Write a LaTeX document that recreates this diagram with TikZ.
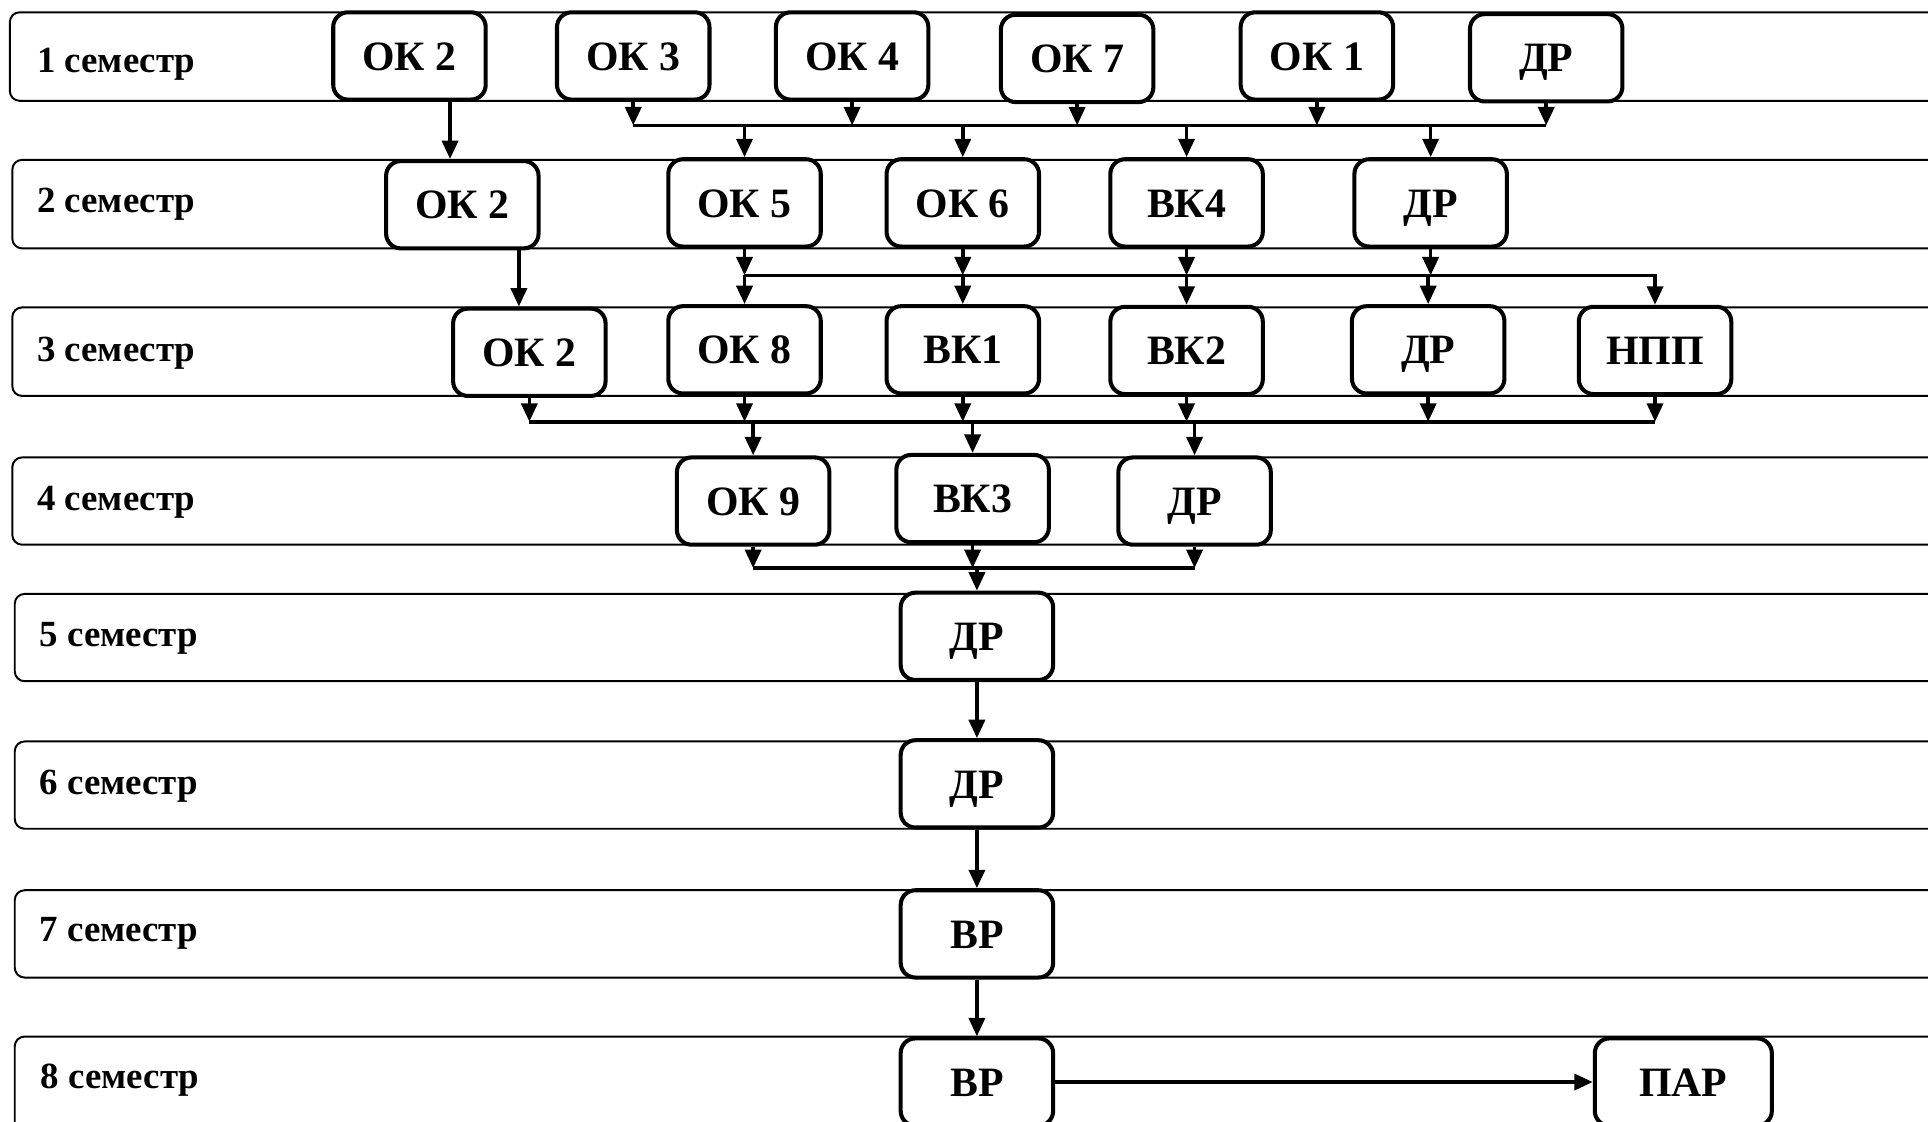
\documentclass[tikz,border=0pt]{standalone}
\usepackage{fontspec}
\setmainfont{Liberation Serif}
\usetikzlibrary{arrows.meta}
\begin{document}
\begin{tikzpicture}[x=1pt,y=-1pt,
  band/.style={draw, line width=1.6pt, rounded corners=8pt},
  box/.style={draw, fill=white, line width=3.3pt, rounded corners=12pt, minimum width=124pt, minimum height=71pt, inner sep=0pt, font=\fontsize{34}{40}\selectfont\bfseries, text height=23pt, text depth=0pt},
  sem/.style={anchor=base west, inner sep=0pt, font=\fontsize{30}{34}\selectfont\bfseries},
  arr/.style={line width=3pt, -{Triangle[length=15pt,width=13pt]}},
  con/.style={line width=3pt}]
\useasboundingbox (0,0) rectangle (1568,912);
\clip (0,0) rectangle (1568,912);
\fill[white] (0,0) rectangle (1568,912);

% semester bands
\draw[band] (8,10) rectangle (1590,82);
\draw[band] (10,130) rectangle (1590,202);
\draw[band] (10,250) rectangle (1590,322);
\draw[band] (10,372) rectangle (1590,443);
\draw[band] (12,483) rectangle (1590,554);
\draw[band] (12,603) rectangle (1590,674);
\draw[band] (12,724) rectangle (1590,795);
\draw[band] (12,843) rectangle (1590,940);

% semester labels
\node[sem] (s1) at (30,59) {1 семестр};
\node[sem] (s2) at (30,173) {2 семестр};
\node[sem] (s3) at (30,294) {3 семестр};
\node[sem] (s4) at (30,415) {4 семестр};
\node[sem] (s5) at (32,526) {5 семестр};
\node[sem] (s6) at (32,646) {6 семестр};
\node[sem] (s7) at (32,766) {7 семестр};
\node[sem] (s8) at (33,885) {8 семестр};

% row 1
\node[box] (a1) at (333,45.5) {ОК 2};
\node[box] (a2) at (515,45.5) {ОК 3};
\node[box] (a3) at (693,45.5) {ОК 4};
\node[box] (a4) at (876,47.5) {ОК 7};
\node[box] (a5) at (1071,45.5) {ОК 1};
\node[box] (a6) at (1257.5,47) {ДР};
% row 2
\node[box] (b1) at (376,166.5) {ОК 2};
\node[box] (b2) at (605.5,165) {ОК 5};
\node[box] (b3) at (783,165) {ОК 6};
\node[box] (b4) at (965,165) {ВК4};
\node[box] (b5) at (1163.5,165) {ДР};
% row 3
\node[box] (c1) at (430.5,286.5) {ОК 2};
\node[box] (c2) at (605.5,284.5) {ОК 8};
\node[box] (c3) at (783,284.5) {ВК1};
\node[box] (c4) at (965,285) {ВК2};
\node[box] (c5) at (1161.5,284.5) {ДР};
\node[box] (c6) at (1346,285) {НПП};
% row 4
\node[box] (d1) at (612.5,407.5) {ОК 9};
\node[box] (d2) at (791,405.5) {ВК3};
\node[box] (d3) at (971.5,407.5) {ДР};
% rows 5-8
\node[box] (e1) at (794.5,517.5) {ДР};
\node[box] (f1) at (794.5,637.5) {ДР};
\node[box] (g1) at (794.5,759.5) {ВР};
\node[box] (h1) at (794.5,880) {ВР};
\node[box, minimum width=144pt] (h2) at (1369,880) {ПАР};

% helper coordinates
\coordinate (bus1) at (0,102);
\coordinate (bus2) at (0,224);
\coordinate (bus3) at (0,343);
\coordinate (bus4) at (0,462);
\coordinate (v1) at (366,0);
\coordinate (v2) at (422,0);

% semester 1 -> 2
\draw[arr] (a1.south -| v1) -- (b1.north -| v1);
\foreach \n in {a2,a3,a4,a5,a6} \draw[arr] (\n.south) -- (\n.south |- bus1);
\draw[con] (a2.south |- bus1) -- (a6.south |- bus1);
\foreach \n in {b2,b3,b4,b5} \draw[arr] (\n.north |- bus1) -- (\n.north);

% semester 2 -> 3
\draw[arr] (b1.south -| v2) -- (c1.north -| v2);
\foreach \n in {b2,b3,b4,b5} \draw[arr] (\n.south) -- (\n.south |- bus2);
\draw[arr] (b2.south |- bus2) -- (c6.north |- bus2) -- (c6.north);
\foreach \n in {c2,c3,c4,c5} \draw[arr] (\n.north |- bus2) -- (\n.north);

% semester 3 -> 4
\foreach \n in {c1,c2,c3,c4,c5,c6} \draw[arr] (\n.south) -- (\n.south |- bus3);
\draw[con] (c1.south |- bus3) -- (c6.south |- bus3);
\foreach \n in {d1,d2,d3} \draw[arr] (\n.north |- bus3) -- (\n.north);

% semester 4 -> 5
\foreach \n in {d1,d2,d3} \draw[arr] (\n.south) -- (\n.south |- bus4);
\draw[con] (d1.south |- bus4) -- (d3.south |- bus4);
\draw[arr] (e1.north |- bus4) -- (e1.north);

% semesters 5 -> 8
\draw[arr] (e1.south) -- (f1.north);
\draw[arr] (f1.south) -- (g1.north);
\draw[arr] (g1.south) -- (h1.north);
\draw[arr] (h1.east) -- (h2.west);
\end{tikzpicture}
\end{document}
